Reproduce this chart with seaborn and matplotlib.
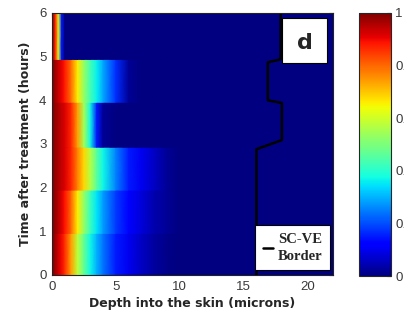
import numpy as np
import matplotlib
matplotlib.use("Agg")
import matplotlib.pyplot as plt
import seaborn as sns
from matplotlib.font_manager import FontProperties
from matplotlib.patches import Rectangle

depth_um = [0, 0.25, 0.5, 0.75, 1, 1.5, 2, 2.5, 3, 3.5, 4, 5, 6, 7, 8, 9, 10, 22]

# time bands (hours) - each band has one profile
band_start_h = [0, 0.96, 1.95, 2.93, 3.96, 4.94]
band_end_h = [0.95, 1.94, 2.92, 3.95, 4.93, 6.0]

# normalised concentration per band, one value per depth node
conc_0_1h = [1.0, 0.97, 0.93, 0.90, 0.86, 0.74, 0.58, 0.47, 0.37, 0.30, 0.24, 0.15, 0.10, 0.06, 0.03, 0.01, 0.0, 0.0]
conc_1_2h = [1.0, 0.98, 0.95, 0.92, 0.89, 0.80, 0.66, 0.53, 0.42, 0.35, 0.28, 0.18, 0.12, 0.08, 0.04, 0.02, 0.0, 0.0]
conc_2_3h = [1.0, 0.98, 0.96, 0.94, 0.92, 0.87, 0.77, 0.68, 0.57, 0.46, 0.37, 0.25, 0.15, 0.10, 0.06, 0.02, 0.0, 0.0]
conc_3_4h = [1.0, 0.98, 0.96, 0.94, 0.92, 0.87, 0.74, 0.55, 0.37, 0.15, 0.02, 0.0, 0.0, 0.0, 0.0, 0.0, 0.0, 0.0]
conc_4_5h = [1.0, 0.97, 0.94, 0.91, 0.88, 0.79, 0.66, 0.53, 0.43, 0.36, 0.29, 0.17, 0.02, 0.0, 0.0, 0.0, 0.0, 0.0]
conc_5_6h = [1.0, 0.88, 0.62, 0.15, 0.0, 0.0, 0.0, 0.0, 0.0, 0.0, 0.0, 0.0, 0.0, 0.0, 0.0, 0.0, 0.0, 0.0]

# SC-VE border (depth vs time)
border_depth = [17.9, 17.9, 16.9, 16.9, 18.0, 18.0, 16.0, 16.0]
border_time = [6.0, 4.94, 4.87, 4.0, 3.94, 3.09, 2.88, 0.0]

cbar_ticks = [0, 0.2, 0.4, 0.6, 0.8, 1]

sns.set_style("white")
plt.rcParams["font.family"] = ["Liberation Sans", "DejaVu Sans"]

profiles = np.array([conc_0_1h, conc_1_2h, conc_2_3h, conc_3_4h, conc_4_5h, conc_5_6h])
t_nodes = np.column_stack([band_start_h, band_end_h]).ravel()
Z = np.repeat(profiles, 2, axis=0)

fig = plt.figure(figsize=(4.04, 3.17), dpi=100)
ax = fig.add_axes([0.1287, 0.1325, 0.6955, 0.8265])
cax = fig.add_axes([0.8886, 0.1293, 0.0792, 0.8297])
ax.set_facecolor("#00007f")

mesh = ax.pcolormesh(depth_um, t_nodes, Z, cmap="jet", vmin=0, vmax=1,
                     shading="gouraud", rasterized=True)

sns.lineplot(x=border_depth, y=border_time, sort=False, estimator=None,
             color="black", linewidth=1.8, ax=ax, label="SC-VE\nBorder")

ax.set_xlim(0, 22)
ax.set_ylim(0, 6)
ax.set_xticks([0, 5, 10, 15, 20])
ax.set_yticks(range(0, 7))
ax.tick_params(direction="in", length=3, labelsize=9.5, labelcolor="#3a3a3a",
               color="black", top=True, right=True, pad=4)
for s in ax.spines.values():
    s.set_color("#222222")
    s.set_linewidth(0.8)

ax.set_xlabel("Depth into the skin (microns)", family="DejaVu Sans",
              fontweight="bold", fontsize=9, labelpad=3)
ax.set_ylabel("Time after treatment (hours)", family="DejaVu Sans",
              fontweight="bold", fontsize=9, labelpad=5)

leg = ax.legend(loc="lower right", bbox_to_anchor=(0.989, 0.019), borderaxespad=0,
                handlelength=0.7, handletextpad=0.35, borderpad=0.5,
                frameon=True, fancybox=False, framealpha=1, edgecolor="black",
                prop=FontProperties(family="Liberation Serif", weight="bold", size=10.5))
leg.get_frame().set_linewidth(0.8)
for t in leg.get_texts():
    t.set_linespacing(1.4)

# panel letter box
ax.add_patch(Rectangle((0.8185, 0.809), 0.16, 0.172, transform=ax.transAxes,
                       facecolor="white", edgecolor="black", linewidth=0.8, zorder=5))
ax.text(0.8985, 0.885, "d", transform=ax.transAxes, ha="center", va="center",
        fontsize=16, fontweight="bold", family="DejaVu Sans", zorder=6)

cb = fig.colorbar(mesh, cax=cax, ticks=cbar_ticks)
cb.ax.set_yticklabels([str(t) for t in cbar_ticks])
cb.ax.tick_params(direction="in", length=3, labelsize=9.5, labelcolor="#3a3a3a", pad=3)
cb.outline.set_linewidth(0.8)

fig.savefig("out.png", dpi=100)
